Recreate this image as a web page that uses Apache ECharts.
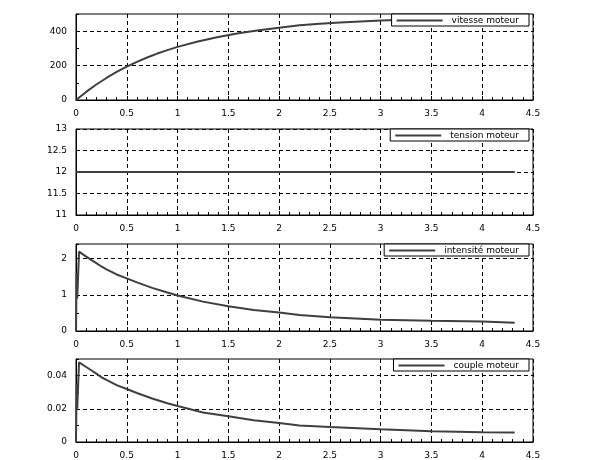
<!DOCTYPE html>
<html><head><meta charset="utf-8">
<script src="https://cdn.jsdelivr.net/npm/echarts@6/dist/echarts.min.js"></script>
<style>html,body{margin:0;padding:0;background:#fff}#c{width:610px;height:460px}</style>
</head><body><div id="c"></div>
<script>
// ---- data ----
const xTicks = [0, 0.5, 1, 1.5, 2, 2.5, 3, 3.5, 4, 4.5];

const tVitesse = [0,0.1,0.2,0.3,0.4,0.5,0.6,0.7,0.8,0.9,1.0,1.2,1.4,1.6,1.8,2.0,2.2,2.4,2.6,2.8,3.0,3.25,3.5,3.75,4.0,4.32];
const vitesse  = [0,47,90,128,163,194,222,247,270,290,309,340,366,388,405,420,434,444,451,457,462,466,469,471,472,473];

const tTension = [0, 4.32];
const tension  = [12, 12];

const tIntensite = [0,0.006,0.012,0.03,0.1,0.15,0.2,0.25,0.3,0.4,0.5,0.6,0.75,0.9,1.0,1.25,1.5,1.75,2.0,2.2,2.5,3.0,3.5,4.0,4.32];
const intensite  = [0,1.6,0.9,2.19,2.05,1.96,1.87,1.78,1.70,1.56,1.45,1.34,1.19,1.06,0.98,0.81,0.68,0.58,0.51,0.44,0.38,0.31,0.28,0.26,0.23];

const tCouple = [0,0.006,0.012,0.03,0.1,0.15,0.2,0.25,0.3,0.4,0.5,0.6,0.75,0.9,1.0,1.25,1.5,1.75,2.0,2.2,2.5,3.0,3.5,4.0,4.32];
const couple  = [0,0.035,0.02,0.048,0.0452,0.0432,0.0412,0.039,0.0374,0.0343,0.0319,0.0295,0.0262,0.0233,0.0217,0.0178,0.0155,0.0131,0.0115,0.0100,0.0090,0.0077,0.0065,0.0059,0.0057];

const names = ['vitesse moteur', 'tension moteur', 'intensité moteur', 'couple moteur'];

// ---- layout ----
const FONT = 'DejaVu Sans';
const FS = 9;
const grids = [
  {left: 76, right: 77, top: 14, height: 86},
  {left: 76, right: 77, top: 129, height: 86},
  {left: 76, right: 77, top: 244, height: 87},
  {left: 76, right: 77, top: 359, height: 87}
];
const dash = [4, 3];
const LINE = '#3f3f3f';

function xAxis(i) {
  return {
    type: 'value', gridIndex: i, min: 0, max: 4.5, interval: 0.5,
    axisLine: {show: true, lineStyle: {color: '#000', width: 1}},
    axisTick: {show: true, inside: true, length: 4, lineStyle: {color: '#000'}},
    minorTick: {show: true, splitNumber: 5, length: 3, lineStyle: {color: '#000'}},
    splitLine: {show: true, lineStyle: {color: '#000', type: dash, width: 1}},
    axisLabel: {fontSize: FS, fontFamily: FONT, color: '#000', margin: 9,
      formatter: v => String(+v.toFixed(2))}
  };
}
function yAxis(i, min, max, interval, labelFn, altGrid) {
  return {
    type: 'value', gridIndex: i, min: min, max: max, interval: interval,
    axisLine: {show: true, lineStyle: {color: '#000', width: 1}},
    axisTick: {show: true, inside: true, length: 3, lineStyle: {color: '#000'}},
    splitLine: {show: true, lineStyle: {color: altGrid ? ['#000', 'rgba(0,0,0,0)'] : '#000', type: dash, width: 1}},
    axisLabel: {fontSize: FS, fontFamily: FONT, color: '#000', margin: 9,
      showMaxLabel: true, formatter: labelFn}
  };
}

const option = {
  animation: false,
  backgroundColor: '#fff',
  grid: grids.map(g => Object.assign({show: true, borderColor: '#000', borderWidth: 1, backgroundColor: 'transparent'}, g)),
  xAxis: [0, 1, 2, 3].map(xAxis),
  yAxis: [
    yAxis(0, 0, 500, 100, v => (Math.round(v) % 200 === 0 && v <= 400) ? String(Math.round(v)) : '', true),
    yAxis(1, 11, 13, 0.5, v => String(+v.toFixed(2)), false),
    yAxis(2, 0, 2.4, 0.5, v => (Math.abs(v - Math.round(v)) < 1e-6 && v <= 2) ? String(Math.round(v)) : '', true),
    yAxis(3, 0, 0.05, 0.01, v => { const k = Math.round(v * 100); return (Math.abs(v * 100 - k) < 1e-6 && k % 2 === 0 && k <= 4) ? String(+v.toFixed(2)) : ''; }, true)
  ],
  legend: names.map((n, i) => ({
    data: [n], right: 81, top: grids[i].top, orient: 'horizontal',
    backgroundColor: '#fff', borderColor: '#000', borderWidth: 1, borderRadius: 0,
    padding: [2, 10, 1, 5], itemWidth: 46, itemHeight: 2, icon: 'rect',
    textStyle: {fontSize: FS, fontFamily: FONT, color: '#000', padding: [0, 0, 0, 4]}
  })),
  series: [
    [tVitesse, vitesse], [tTension, tension], [tIntensite, intensite], [tCouple, couple]
  ].map((d, i) => ({
    name: names[i], type: 'line', xAxisIndex: i, yAxisIndex: i,
    data: d[0].map((t, k) => [t, d[1][k]]),
    symbol: 'none', smooth: false,
    lineStyle: {color: LINE, width: 2}, itemStyle: {color: LINE}
  }))
};
const chart = echarts.init(document.getElementById('c'), null, {renderer: 'canvas'});
chart.setOption(option);
</script></body></html>
